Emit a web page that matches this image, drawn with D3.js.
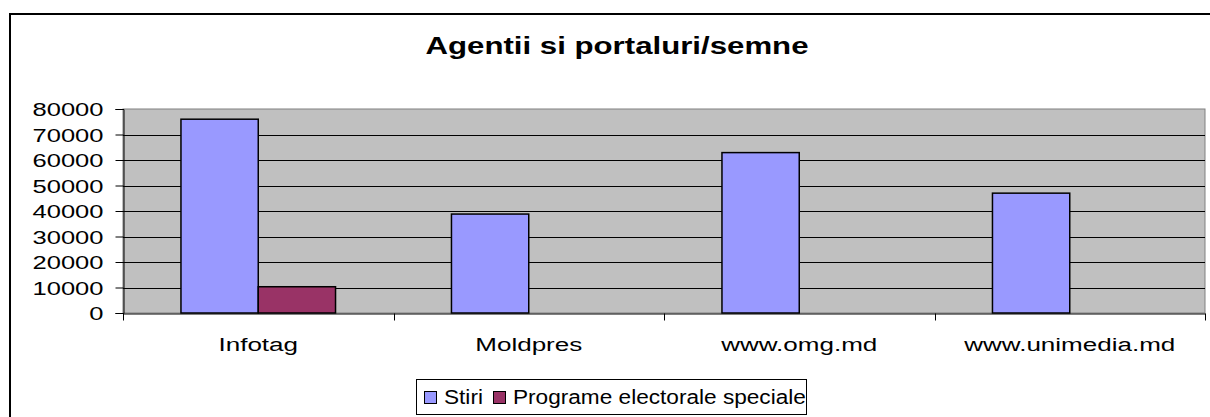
<!DOCTYPE html>
<html>
<head>
<meta charset="utf-8">
<script src="https://cdn.jsdelivr.net/npm/d3@7/dist/d3.min.js"></script>
<style>
  html, body { margin: 0; padding: 0; background: #ffffff; }
  svg { display: block; }
  text { font-family: "Liberation Sans", Arial, sans-serif; fill: #000; }
</style>
</head>
<body>
<svg id="chart" width="1210" height="417"></svg>
<script>
// ---- data ----
const categories = ["Infotag", "Moldpres", "www.omg.md", "www.unimedia.md"];
const seriesNames = ["Stiri", "Programe electorale speciale"];
const stiri = [76000, 38800, 62900, 47000];
const programe = [10300, 0, 0, 0];
const yTicks = [0, 10000, 20000, 30000, 40000, 50000, 60000, 70000, 80000];
const seriesColors = ["#9999FF", "#993366"];
const chartTitle = "Agentii si portaluri/semne";

const svg = d3.select("#chart");
const W = 1210, H = 417;
const plot = { left: 123, right: 1205, top: 109, bottom: 313 };

// outer chart frame (continues past right & bottom edges)
svg.append("rect")
  .attr("x", 10).attr("y", 14)
  .attr("width", W + 20).attr("height", H + 20)
  .attr("fill", "#fff").attr("stroke", "#000").attr("stroke-width", 2);

// title
svg.append("text")
  .attr("transform", `translate(617,54) scale(1.3,1)`)
  .attr("text-anchor", "middle")
  .style("font-size", "24px").style("font-weight", "bold")
  .text(chartTitle);

const x = d3.scaleBand().domain(categories).range([plot.left, plot.right]).padding(0);
const xs = d3.scaleBand().domain(seriesNames).range([0, x.bandwidth()])
  .paddingInner(0).paddingOuter(0.75);
const y = d3.scaleLinear().domain([0, 80000]).range([plot.bottom, plot.top]);

// plot area
svg.append("rect")
  .attr("x", plot.left).attr("y", plot.top)
  .attr("width", plot.right - plot.left).attr("height", plot.bottom - plot.top)
  .attr("fill", "#C0C0C0").attr("stroke", "#808080").attr("stroke-width", 1);

// gridlines
svg.append("g").selectAll("line")
  .data(yTicks.filter(t => t > 0 && t < 80000))
  .join("line")
  .attr("x1", plot.left).attr("x2", plot.right)
  .attr("y1", d => Math.round(y(d)) + 0.5).attr("y2", d => Math.round(y(d)) + 0.5)
  .attr("stroke", "#000").attr("stroke-width", 1);

// bars
const data = categories.map((c, i) => ({ c, vals: [stiri[i], programe[i]] }));
const groups = svg.append("g").selectAll("g").data(data).join("g")
  .attr("transform", d => `translate(${x(d.c)},0)`);
groups.selectAll("rect")
  .data(d => d.vals.map((v, j) => ({ s: seriesNames[j], v, j })).filter(e => e.v > 0))
  .join("rect")
  .attr("x", e => xs(e.s))
  .attr("y", e => y(e.v))
  .attr("width", xs.bandwidth())
  .attr("height", e => y(0) - y(e.v))
  .attr("fill", e => seriesColors[e.j])
  .attr("stroke", "#000").attr("stroke-width", 1.5);

// y axis
const yAxis = svg.append("g").attr("transform", `translate(${plot.left + 0.5},0)`)
  .call(d3.axisLeft(y).tickValues(yTicks).tickSize(8).tickPadding(0).tickFormat(d3.format("d")));
yAxis.select(".domain").attr("stroke", "#000");
yAxis.selectAll(".tick line").attr("stroke", "#000");
yAxis.selectAll(".tick text").remove();
yAxis.selectAll(".tick").append("text")
  .attr("transform", `translate(-20,6.5) scale(1.38,1)`)
  .attr("text-anchor", "end")
  .style("font-size", "18.5px")
  .text(d => d3.format("d")(d));

// x axis
const xAxis = svg.append("g").attr("transform", `translate(0,${plot.bottom + 0.5})`)
  .call(d3.axisBottom(x).tickSize(0).tickFormat(""));
xAxis.select(".domain").attr("stroke", "#000");
xAxis.selectAll(".tick").remove();
const bounds = categories.map(c => x(c)).concat([plot.right]);
xAxis.append("g").selectAll("line").data(bounds).join("line")
  .attr("x1", d => Math.round(d) + 0.5).attr("x2", d => Math.round(d) + 0.5)
  .attr("y1", 0).attr("y2", 7).attr("stroke", "#000");
xAxis.append("g").selectAll("text").data(categories).join("text")
  .attr("transform", d => `translate(${x(d) + x.bandwidth() / 2},${37.5}) scale(1.37,1)`)
  .attr("text-anchor", "middle")
  .style("font-size", "19px")
  .text(d => d);

// legend
const lg = svg.append("g");
lg.append("rect").attr("x", 416.5).attr("y", 379.5).attr("width", 390).attr("height", 35)
  .attr("fill", "#fff").attr("stroke", "#000").attr("stroke-width", 1);
const legendItems = [
  { name: seriesNames[0], color: seriesColors[0], sx: 424, tx: 444 },
  { name: seriesNames[1], color: seriesColors[1], sx: 493, tx: 513 }
];
lg.selectAll("rect.sw").data(legendItems).join("rect").attr("class", "sw")
  .attr("x", d => d.sx + 0.5).attr("y", 391.5).attr("width", 12).attr("height", 12)
  .attr("fill", d => d.color).attr("stroke", "#000").attr("stroke-width", 1);
lg.selectAll("text").data(legendItems).join("text")
  .attr("transform", d => `translate(${d.tx},404) scale(1.16,1)`)
  .style("font-size", "19.5px")
  .text(d => d.name);
</script>
</body>
</html>
